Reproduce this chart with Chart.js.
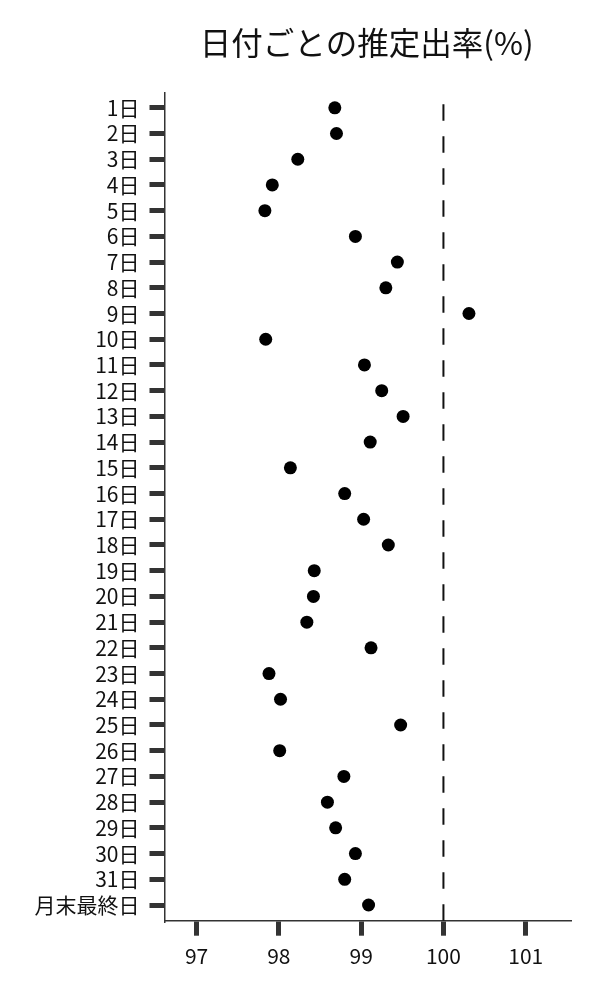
<!DOCTYPE html>
<html>
<head>
<meta charset="utf-8">
<script src="https://cdn.jsdelivr.net/npm/chart.js@4.4.1/dist/chart.umd.min.js"></script>
<style>
  html, body { margin: 0; padding: 0; background: #fff; }
  #wrap { width: 600px; height: 1000px; }
</style>
</head>
<body>
<div id="wrap"><canvas id="c" width="600" height="1000"></canvas></div>
<script>
const categories = ['1日','2日','3日','4日','5日','6日','7日','8日','9日','10日','11日','12日','13日','14日','15日','16日','17日','18日','19日','20日','21日','22日','23日','24日','25日','26日','27日','28日','29日','30日','31日','月末最終日'];
const rates = [98.68, 98.70, 98.23, 97.92, 97.83, 98.93, 99.44, 99.30, 100.31, 97.84, 99.04, 99.25, 99.51, 99.11, 98.14, 98.80, 99.03, 99.33, 98.43, 98.42, 98.34, 99.12, 97.88, 98.02, 99.48, 98.01, 98.79, 98.59, 98.69, 98.93, 98.80, 99.09];
const xTicks = [97, 98, 99, 100, 101];
const refValue = 100;
const titleText = '日付ごとの推定出率(%)';

const FONT = "'Noto Sans CJK JP', 'Noto Sans', sans-serif";

const refLine = {
  id: 'refLine',
  beforeDatasetsDraw(chart) {
    const { ctx, chartArea: { top, bottom }, scales: { x } } = chart;
    const px = x.getPixelForValue(refValue);
    ctx.save();
    ctx.strokeStyle = '#111';
    ctx.lineWidth = 2;
    ctx.setLineDash([16.5, 15.5]);
    ctx.beginPath();
    ctx.moveTo(px, bottom);
    ctx.lineTo(px, top);
    ctx.stroke();
    ctx.restore();
  }
};

new Chart(document.getElementById('c'), {
  type: 'scatter',
  data: {
    datasets: [{
      data: rates.map((v, i) => ({ x: v, y: i })),
      backgroundColor: '#000',
      borderWidth: 0,
      pointRadius: 6.5,
      pointHoverRadius: 6.5
    }]
  },
  options: {
    responsive: false,
    animation: false,
    layout: { padding: { left: 0, right: 31, top: 0, bottom: 0 } },
    plugins: {
      legend: { display: false },
      tooltip: { enabled: false },
      title: {
        display: true,
        text: titleText,
        fullSize: false,
        color: '#111',
        font: { family: FONT, size: 31.5, weight: 'normal', lineHeight: 1.2 },
        padding: { top: 24, bottom: 31 }
      }
    },
    scales: {
      x: {
        type: 'linear',
        min: 96.61,
        max: 101.526,
        afterBuildTicks(scale) { scale.ticks = xTicks.map(v => ({ value: v })); },
        afterFit(scale) { scale.height = 79.3; },
        grid: { drawOnChartArea: false, color: '#333', lineWidth: 5, tickLength: 15 },
        border: { color: '#333', width: 1.5 },
        ticks: { color: '#111', padding: 8, font: { family: FONT, size: 21 } }
      },
      y: {
        type: 'linear',
        reverse: true,
        min: -0.583,
        max: 31.61,
        afterBuildTicks(scale) { scale.ticks = categories.map((_, i) => ({ value: i })); },
        afterFit(scale) { scale.width = 164.5; },
        grid: { drawOnChartArea: false, color: '#333', lineWidth: 5, tickLength: 15 },
        border: { color: '#333', width: 1.5 },
        ticks: {
          color: '#111', padding: 10, autoSkip: false,
          font: { family: FONT, size: 21 },
          callback: (v) => categories[v]
        }
      }
    }
  },
  plugins: [refLine]
});
</script>
</body>
</html>
